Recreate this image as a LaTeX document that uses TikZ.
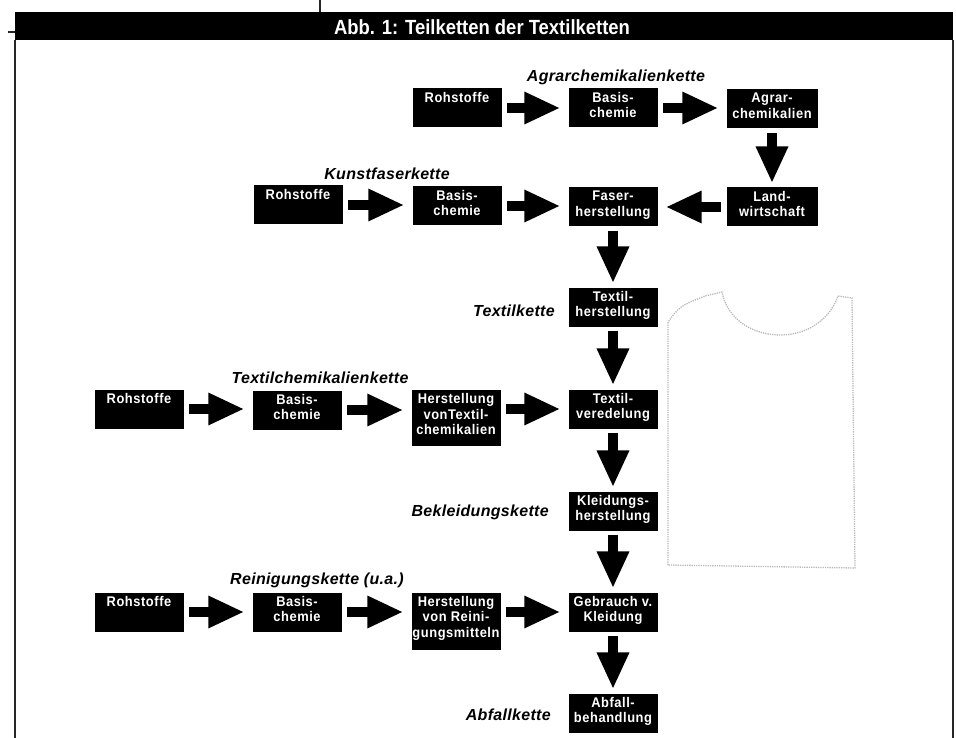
\documentclass[tikz,border=0pt]{standalone}
\usepackage{fontspec}
\setmainfont{Liberation Sans}
\newfontfamily\boxfont[LetterSpace=4, FakeStretch=0.92]{Liberation Sans}
\newfontfamily\chainfont[LetterSpace=2]{Liberation Sans}
\newfontfamily\titlefont[FakeStretch=0.9]{Liberation Sans}
\usetikzlibrary{arrows.meta}
\begin{document}
\begin{tikzpicture}[x=1pt,y=-1pt,
  box/.style={fill=black, minimum width=89pt, minimum height=39pt, inner sep=0pt},
  widebox/.style={box, minimum width=91pt},
  tallbox/.style={box, minimum height=56pt},
  boxlbl/.style={anchor=north, text=white, font=\boxfont\bfseries\fontsize{14}{15.5}\selectfont, align=center, inner sep=0pt, yshift=-3.5pt},
  chain/.style={font=\chainfont\bfseries\itshape\fontsize{16}{17}\selectfont, inner sep=0pt},
  fat/.style={line width=9.5pt, -{Triangle[width=30pt,length=36pt]}, shorten <=5pt, shorten >=8pt},
  fatv/.style={line width=9.5pt, -{Triangle[width=30pt,length=37pt]}, shorten <=4pt, shorten >=4pt},
  frame/.style={line width=1.5pt, black!85},
  sketch/.style={gray!55, line width=1.3pt, densely dotted}
]
\useasboundingbox (0,0) rectangle (956,738);
% frame and title
\fill[black] (15,12) rectangle (953,40);
\node[text=white, font=\titlefont\bfseries\fontsize{20.5}{21}\selectfont, inner sep=0pt] (title) at (482,27) {Abb. 1: Teilketten der Textilketten};
\draw[frame] (15,40) -- (15,738);
\draw[frame] (953,40) -- (953,738);
\draw[frame] (320,0) -- (320,12);
\draw[frame] (8,32) -- (15,32);

% faint sketch of a shirt in the background
\draw[sketch] (668,565) -- (668,322) .. controls (680,306) .. (705,296) -- (722,292)
  .. controls (732,345) and (818,352) .. (838,296) -- (852,298) -- (855,568) -- cycle;

% row 1: Agrarchemikalienkette
\node[box, label={[boxlbl]north:Rohstoffe}] (r1) at (457,108) {};
\node[box, label={[boxlbl]north:Basis-\\chemie}] (b1) at (613,108) {};
\node[widebox, label={[boxlbl]north:Agrar-\\chemikalien}] (ag) at (772,109) {};
\node[chain] (l1) at (616,77) {Agrarchemikalienkette};

% row 2: Kunstfaserkette
\node[box, label={[boxlbl]north:Rohstoffe}] (r2) at (298,205) {};
\node[box, label={[boxlbl]north:Basis-\\chemie}] (b2) at (457,206) {};
\node[box, label={[boxlbl]north:Faser-\\herstellung}] (fa) at (613,207) {};
\node[widebox, label={[boxlbl]north:Land-\\wirtschaft}] (la) at (772,207) {};
\node[chain] (l2) at (387,174) {Kunstfaserkette};

% Textilkette
\node[box, label={[boxlbl]north:Textil-\\herstellung}] (th) at (613,307) {};
\node[chain, anchor=east] (l3) at (555,311) {Textilkette};

% row 3: Textilchemikalienkette
\node[box, label={[boxlbl]north:Rohstoffe}] (r3) at (139,409) {};
\node[box, label={[boxlbl]north:Basis-\\chemie}] (b3) at (297,410) {};
\node[tallbox, label={[boxlbl]north:Herstellung\\vonTextil-\\chemikalien}] (hv) at (456,418) {};
\node[box, label={[boxlbl]north:Textil-\\veredelung}] (tv) at (613,409) {};
\node[chain] (l4) at (320,378) {Textilchemikalienkette};

% Bekleidungskette
\node[box, label={[boxlbl]north:Kleidungs-\\herstellung}] (kh) at (613,511) {};
\node[chain, anchor=east] (l5) at (549,512) {Bekleidungskette};

% row 4: Reinigungskette
\node[box, label={[boxlbl]north:Rohstoffe}] (r4) at (139,612) {};
\node[box, label={[boxlbl]north:Basis-\\chemie}] (b4) at (297,612) {};
\node[tallbox, minimum height=57pt, label={[boxlbl]north:Herstellung\\von Reini-\\gungsmitteln}] (hr) at (456,621) {};
\node[box, label={[boxlbl]north:Gebrauch v.\\Kleidung}] (gk) at (613,612) {};
\node[chain] (l6) at (317,580) {Reinigungskette (u.a.)};

% Abfallkette
\node[box, label={[boxlbl]north:Abfall-\\behandlung}] (ab) at (613,713) {};
\node[chain, anchor=east] (l7) at (551,715) {Abfallkette};

% horizontal arrows
\draw[fat] (r1.east) -- (r1.east -| b1.west);
\draw[fat] (b1.east) -- (b1.east -| ag.west);
\draw[fat] (r2.east) -- (r2.east -| b2.west);
\draw[fat] (b2.east) -- (b2.east -| fa.west);
\draw[fat] (la.west) -- (la.west -| fa.east);
\draw[fat] (r3.east) -- (r3.east -| b3.west);
\draw[fat] (b3.east) -- (b3.east -| hv.west);
\draw[fat] (hv.east |- tv.west) -- (tv.west);
\draw[fat] (r4.east) -- (r4.east -| b4.west);
\draw[fat] (b4.east) -- (b4.east -| hr.west);
\draw[fat] (hr.east |- gk.west) -- (gk.west);

% vertical arrows
\draw[fatv] (ag.south) -- (la.north);
\draw[fatv] (fa.south) -- (th.north);
\draw[fatv] (th.south) -- (tv.north);
\draw[fatv] (tv.south) -- (kh.north);
\draw[fatv] (kh.south) -- (gk.north);
\draw[fatv] (gk.south) -- (ab.north);
\end{tikzpicture}
\end{document}
